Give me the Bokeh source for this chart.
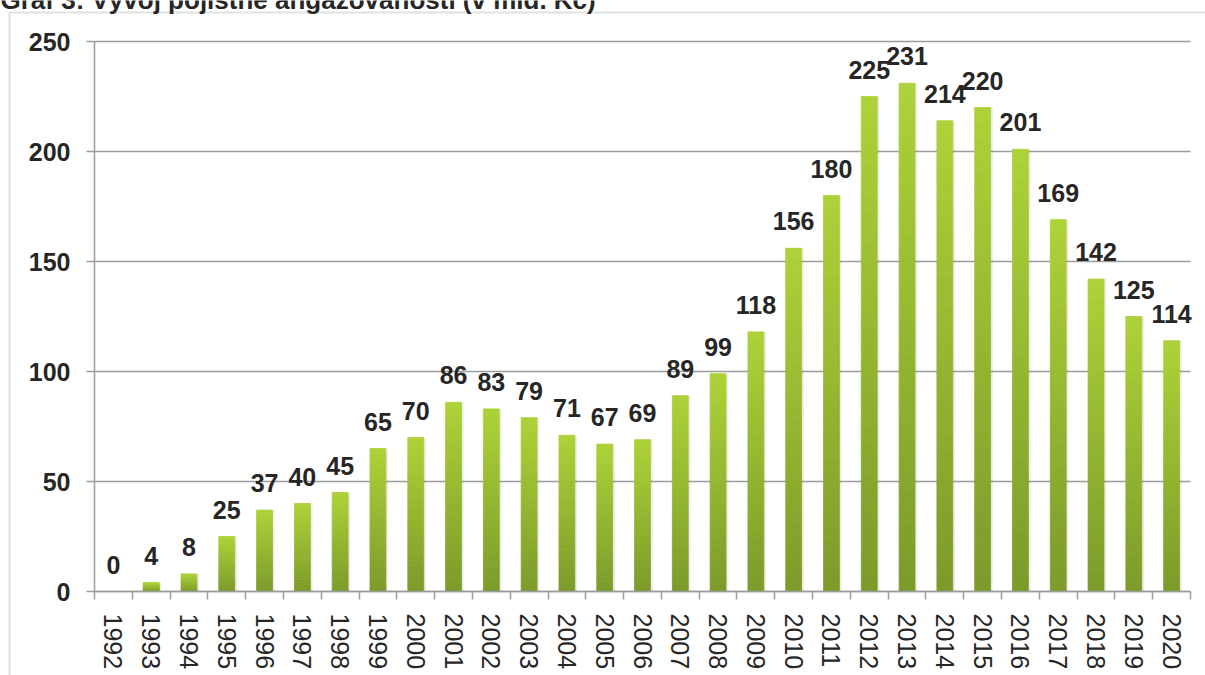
from bokeh.plotting import figure
from bokeh.models import (Range1d, FixedTicker, CustomJSTickFormatter,
                          ColumnDataSource, Label, BoxAnnotation)
from bokeh.core.properties import value
from bokeh.embed import file_html
from bokeh.resources import INLINE

title = "Graf 3: Vývoj pojistné angažovanosti (v mld. Kč)"
years = ["1992", "1993", "1994", "1995", "1996", "1997", "1998", "1999", "2000", "2001",
         "2002", "2003", "2004", "2005", "2006", "2007", "2008", "2009", "2010", "2011",
         "2012", "2013", "2014", "2015", "2016", "2017", "2018", "2019", "2020"]
values = [0, 4, 8, 25, 37, 40, 45, 65, 70, 86, 83, 79, 71, 67, 69, 89, 99, 118, 156, 180,
          225, 231, 214, 220, 201, 169, 142, 125, 114]
y_ticks = [0, 50, 100, 150, 200, 250]

FONT = "Liberation Sans"
TXT = "#262626"
GRID = "#9c9c9c"
TOP_C = (174, 210, 56)
BOT_C = (124, 154, 42)

n = len(years)
centers = [i + 0.5 for i in range(n)]  # category slot centres
YMAX = y_ticks[-1]

# layout (canvas pixels): plot area edges
W, H = 1205, 675
PL, PR, PT, PB = 94, 1190, 41, 591
sx = (PR - PL) / n
sy = (PB - PT) / YMAX
def xd(px):
    return (px - PL) / sx
def yd(py):
    return (PB - py) / sy

p = figure(width=W, height=H, x_range=Range1d(xd(0), xd(W)), y_range=Range1d(yd(H), yd(0)),
           output_backend="svg", toolbar_location=None,
           min_border_left=0, min_border_right=0, min_border_top=0, min_border_bottom=0,
           margin=(0, 0, 0, 0))
p.outline_line_color = None
p.background_fill_color = "white"
p.border_fill_color = "white"
p.xgrid.visible = False
p.ygrid.visible = False

# horizontal gridlines (behind bars)
p.segment(x0=[0] * len(y_ticks), x1=[n] * len(y_ticks), y0=y_ticks, y1=y_ticks,
          line_color=GRID, line_width=1.5, level="underlay")

# y axis placed at x = 0 inside the canvas
ya = p.yaxis[0]
ya.fixed_location = 0
ya.bounds = (0, YMAX)
ya.ticker = FixedTicker(ticks=y_ticks)
ya.axis_line_color = GRID
ya.axis_line_width = 1.5
ya.major_tick_line_color = GRID
ya.major_tick_line_width = 1.5
ya.major_tick_out = 8
ya.major_tick_in = 0
ya.minor_tick_line_color = None
ya.major_label_standoff = 16
ya.major_label_text_font = FONT
ya.major_label_text_font_style = "bold"
ya.major_label_text_font_size = "25px"
ya.major_label_text_color = TXT

# x axis at y = 0: labels at slot centres, tick marks between categories
xa = p.xaxis[0]
xa.fixed_location = 0
xa.bounds = (0, n)
xa.ticker = FixedTicker(ticks=centers, minor_ticks=list(range(n + 1)))
xa.formatter = CustomJSTickFormatter(args=dict(years=years),
                                     code="const i = Math.floor(tick); return (i >= 0 && i < years.length) ? years[i] : '';")
xa.axis_line_color = GRID
xa.axis_line_width = 1.5
xa.major_tick_out = 0
xa.major_tick_in = 0
xa.minor_tick_line_color = GRID
xa.minor_tick_line_width = 1.5
xa.minor_tick_out = 8
xa.minor_tick_in = 0
xa.major_label_orientation = "vertical"
xa.major_label_standoff = 14
xa.major_label_text_font = FONT
xa.major_label_text_font_size = "25px"
xa.major_label_text_color = TXT

# shadow
p.vbar(x=[c + 0.05 for c in centers], top=values, width=0.44,
       fill_color="#000000", fill_alpha=0.07, line_color=None)

# gradient bars (stacked slices of each bar, fraction of its own height)
N = 30
xs, bots, tops, cols = [], [], [], []
for cx, v in zip(centers, values):
    for i in range(N):
        f0, f1 = i / N, (i + 1) / N
        t = (i + 0.5) / N
        c = tuple(int(round(BOT_C[k] + (TOP_C[k] - BOT_C[k]) * t)) for k in range(3))
        xs.append(cx)
        bots.append(v * f0)
        tops.append(v * f1)
        cols.append("#%02x%02x%02x" % c)
p.vbar(x="x", bottom="b", top="t", width=0.42, fill_color="c", line_color="c", line_width=0.8,
       source=ColumnDataSource(dict(x=xs, b=bots, t=tops, c=cols)))

# value labels
p.text(x="x", y="y", text="txt", source=ColumnDataSource(dict(x=centers, y=values, txt=[str(v) for v in values])),
       text_align="center", text_baseline="alphabetic", y_offset=-27,
       text_font=value(FONT), text_font_style="bold", text_font_size="25px", text_color=TXT)

# outer frame and title
p.add_layout(BoxAnnotation(left=xd(9), right=xd(W + 50), top=yd(12), bottom=yd(H + 50),
                           fill_alpha=0, line_color=GRID, line_width=2))
p.add_layout(Label(x=xd(0), y=yd(-1), text=title,
                   text_font=FONT, text_font_style="bold", text_font_size="26px",
                   text_color=TXT, text_baseline="alphabetic", text_align="left"))

open("out.html", "w").write(file_html(p, INLINE))
